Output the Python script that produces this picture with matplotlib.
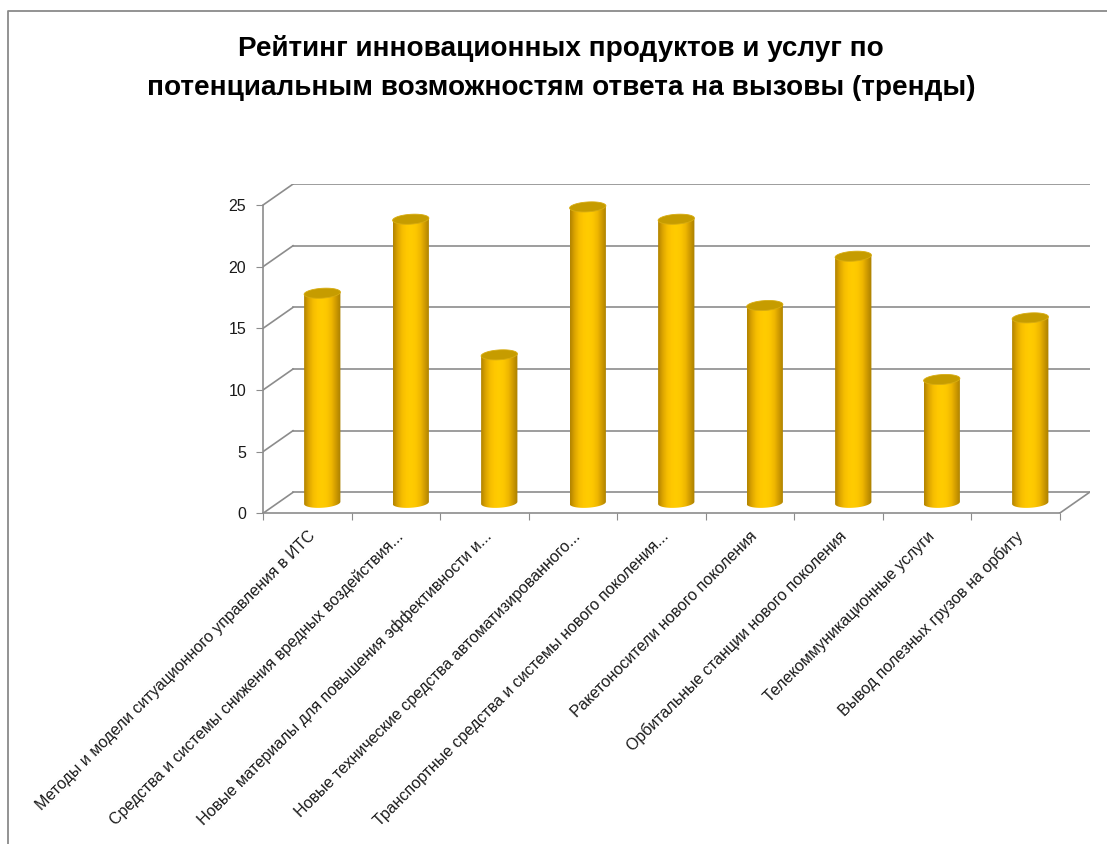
import numpy as np
import matplotlib
matplotlib.use('Agg')
import matplotlib.pyplot as plt
from matplotlib.colors import LinearSegmentedColormap
from matplotlib.path import Path
from matplotlib.patches import Polygon

plt.rcParams['font.family'] = ['Liberation Sans', 'DejaVu Sans']

# данные
categories = [
    'Методы и модели ситуационного управления в ИТС',
    'Средства и системы снижения вредных воздействия...',
    'Новые материалы для повышения эффективности и...',
    'Новые технические средства автоматизированного...',
    'Транспортные средства и системы нового поколения...',
    'Ракетоносители нового поколения',
    'Орбитальные станции нового поколения',
    'Телекоммуникационные услуги',
    'Вывод полезных грузов на орбиту',
]
values = [17, 23, 12, 24, 23, 16, 20, 10, 15]
y_ticks = [0, 5, 10, 15, 20, 25]
title = ('Рейтинг инновационных продуктов и услуг по\n'
         'потенциальным возможностям ответа на вызовы (тренды)')

# псевдо-3D параметры
depth_x = 0.339
depth_y = 1.70
bar_w = 0.41
cap_h = 0.8
cap_tilt = 0.09
grid_color = '#8c8c8c'
n = len(categories)

cyl_cmap = LinearSegmentedColormap.from_list(
    'cyl', ['#b08200', '#dca400', '#f6be00', '#ffc800', '#ffcc00',
            '#fcc600', '#eeb600', '#cc9800', '#a87e00'])

fig = plt.figure(figsize=(11.07, 8.44), dpi=100)

# рамка
fig.add_artist(plt.Line2D([8 / 1107, 8 / 1107, 1.0], [0.0, 1 - 11 / 844, 1 - 11 / 844],
                          color='#8a8a8a', lw=1.3, transform=fig.transFigure))

fig.text(0.507, 1 - 68 / 844, title, ha='center', va='center', fontsize=20.1,
         fontweight='bold', linespacing=1.62)

ax = fig.add_axes([263 / 1107, (844 - 513.3) / 844,
                   88.5 * (n + depth_x) / 1107, 12.33 * (25 + depth_y) / 844])

# стенки и сетка
for v in y_ticks:
    ax.plot([depth_x, n + depth_x], [v + depth_y, v + depth_y], color=grid_color, lw=1.2, zorder=1)
    ax.plot([0, depth_x], [v, v + depth_y], color=grid_color, lw=1.2, zorder=1)
ax.plot([n, n + depth_x], [0, depth_y], color=grid_color, lw=1.2, zorder=1)

# цилиндры
grad = np.linspace(0, 1, 256).reshape(1, -1)
r = bar_w / 2
b = cap_h / 2
for i, v in enumerate(values):
    xc = i + 0.5 + depth_x / 2
    y0 = depth_y / 2
    y1 = v + depth_y / 2
    t = np.linspace(0, np.pi, 60)
    arc = np.column_stack([xc + r * np.cos(t), y0 - b * np.sin(t) + cap_tilt * np.cos(t)])
    verts = np.vstack([[[xc - r, y1 - cap_tilt], [xc + r, y1 + cap_tilt]], arc, [[xc - r, y1 - cap_tilt]]])
    im = ax.imshow(grad, cmap=cyl_cmap, aspect='auto', interpolation='bicubic',
                   extent=(xc - r, xc + r, y0 - cap_h, y1 + cap_h), zorder=3)
    im.set_clip_path(Path(verts), ax.transData)
    tt = np.linspace(0, 2 * np.pi, 80)
    cap = np.column_stack([xc + r * np.cos(tt), y1 + b * np.sin(tt) + cap_tilt * np.cos(tt)])
    ax.add_patch(Polygon(cap, closed=True, facecolor='#c69c00', edgecolor='#d8ac10',
                         lw=0.6, zorder=4))

ax.set_xlim(0, n + depth_x)
ax.set_ylim(0, 25 + depth_y)
ax.set_aspect('auto')

for s in ['top', 'right']:
    ax.spines[s].set_visible(False)
ax.spines['left'].set_bounds(0, 25)
ax.spines['bottom'].set_bounds(0, n)
for s in ['left', 'bottom']:
    ax.spines[s].set_color(grid_color)
    ax.spines[s].set_linewidth(1.2)

ax.set_yticks(y_ticks)
ax.set_yticklabels([str(v) for v in y_ticks], fontsize=11.5, color='#1a1a1a')
ax.tick_params(axis='y', length=5, color=grid_color, pad=7)

ax.set_xticks(np.arange(n + 1))
ax.set_xticklabels([])
ax.tick_params(axis='x', which='major', length=5, color=grid_color)
ax.set_xticks(np.arange(n) + 0.5, minor=True)
ax.set_xticklabels(categories, minor=True, rotation=45, ha='right',
                   rotation_mode='anchor', fontsize=11.5, color='#1a1a1a')
ax.tick_params(axis='x', which='minor', length=0, pad=11)

fig.savefig('out.png', dpi=100)
